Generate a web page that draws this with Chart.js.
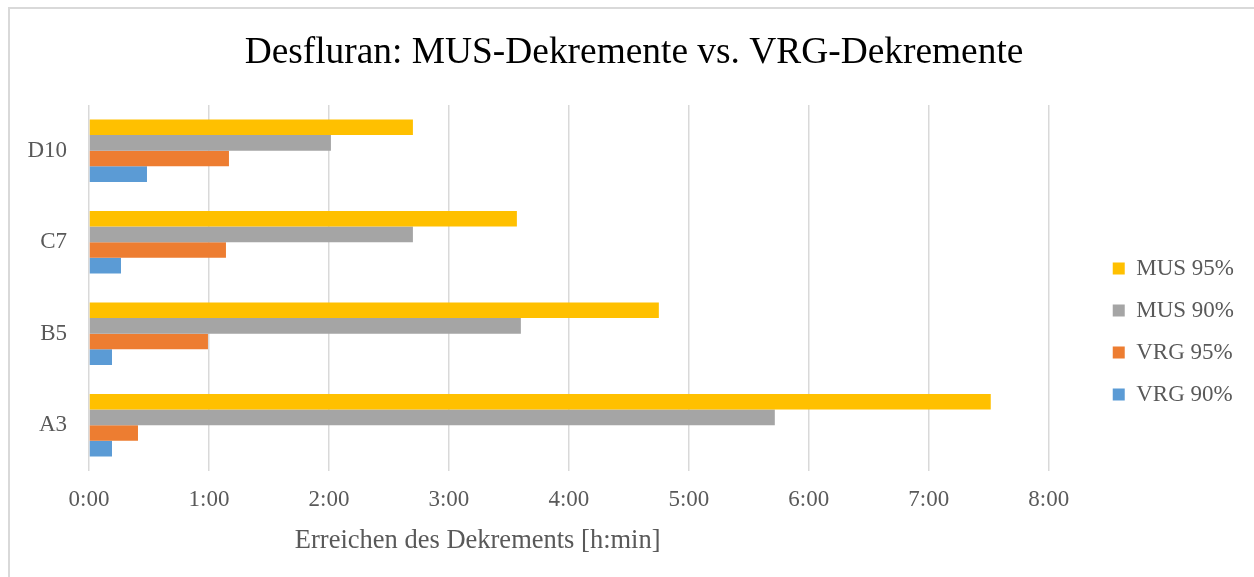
<!DOCTYPE html>
<html>
<head>
<meta charset="utf-8">
<script src="https://cdn.jsdelivr.net/npm/chart.js@4/dist/chart.umd.min.js"></script>
<style>
  html, body { margin: 0; padding: 0; background: #fff; }
  #wrap { position: relative; width: 1254px; height: 577px; }
  #frame {
    position: absolute; left: 8px; top: 7px; right: 0; bottom: 0;
    border-left: 2px solid #d9d9d9; border-top: 2px solid #d9d9d9;
    pointer-events: none;
  }
</style>
</head>
<body>
<div id="wrap">
  <canvas id="chart-desfluran" width="1254" height="577"></canvas>
  <div id="frame"></div>
</div>
<script>
// data (minutes)
const categories = ["A3", "B5", "C7", "D10"];
const seriesNames = ["MUS 95%", "MUS 90%", "VRG 95%", "VRG 90%"];
const mus95 = [451, 285, 214, 162];
const mus90 = [343, 216, 162, 121];
const vrg95 = [24.5, 59.5, 68.5, 70];
const vrg90 = [11.5, 11.5, 16, 29];
const xTicks = [0, 60, 120, 180, 240, 300, 360, 420, 480];

const colors = ["#FFC000", "#A5A5A5", "#ED7D31", "#5B9BD5"];
const fontFamily = "'Liberation Serif', 'Times New Roman', serif";
const desfluranCanvas = document.querySelector("#chart-desfluran");

const toHourMin = (v) => {
  const h = Math.floor(v / 60);
  const m = Math.round(v - h * 60);
  return h + ":" + String(m).padStart(2, "0");
};

// axis title sits left of centre in the original, so draw it ourselves
const axisTitlePlugin = {
  id: "axisTitle",
  afterDraw(chart) {
    const { ctx, chartArea } = chart;
    ctx.save();
    ctx.font = "26.5px " + fontFamily;
    ctx.fillStyle = "#595959";
    ctx.textAlign = "center";
    ctx.textBaseline = "alphabetic";
    ctx.fillText(
      "Erreichen des Dekrements [h:min]",
      chartArea.left + chartArea.width * 0.405,
      chartArea.bottom + 77
    );
    ctx.restore();
  },
};

const chartDesfluran = new Chart(desfluranCanvas, {
  type: "bar",
  data: {
    labels: categories,
    datasets: [
      { label: seriesNames[0], data: mus95, backgroundColor: colors[0] },
      { label: seriesNames[1], data: mus90, backgroundColor: colors[1] },
      { label: seriesNames[2], data: vrg95, backgroundColor: colors[2] },
      { label: seriesNames[3], data: vrg90, backgroundColor: colors[3] },
    ],
  },
  options: {
    indexAxis: "y",
    responsive: false,
    animation: false,
    categoryPercentage: 0.683,
    barPercentage: 1,
    layout: {
      padding: { left: 24, right: 10, top: 0, bottom: 66 },
    },
    plugins: {
      title: {
        display: true,
        text: "Desfluran: MUS-Dekremente vs. VRG-Dekremente",
        color: "#000000",
        font: { family: fontFamily, size: 37.4, weight: "normal" },
        padding: { top: 31, bottom: 29 },
      },
      legend: {
        position: "right",
        align: "center",
        // empty legend title only pushes the entries down
        title: {
          display: true,
          text: " ",
          font: { size: 10 },
          padding: { top: 140, bottom: 0 },
        },
        labels: {
          boxWidth: 12,
          boxHeight: 12,
          padding: 19,
          color: "#595959",
          font: { family: fontFamily, size: 23 },
        },
      },
      tooltip: { enabled: false },
    },
    scales: {
      x: {
        min: 0,
        max: 480,
        afterBuildTicks: (scale) => {
          scale.ticks = xTicks.map((v) => ({ value: v }));
        },
        afterFit: (scale) => {
          scale.height = 40;
        },
        grid: { color: "#d9d9d9", lineWidth: 1.5, drawTicks: false },
        border: { display: false },
        ticks: {
          padding: 15,
          color: "#595959",
          font: { family: fontFamily, size: 23 },
          callback: (v) => toHourMin(v),
        },
      },
      y: {
        reverse: true,
        afterFit: (scale) => {
          scale.width = 65;
        },
        grid: { display: false, drawTicks: false },
        border: { display: false },
        ticks: {
          padding: 22,
          color: "#595959",
          font: { family: fontFamily, size: 23 },
        },
      },
      gap: {
        type: "linear",
        position: "right",
        afterFit: (scale) => {
          scale.width = 45;
        },
        grid: { display: false, drawTicks: false },
        border: { display: false },
        ticks: { display: false },
      },
    },
  },
  plugins: [axisTitlePlugin],
});
</script>
</body>
</html>
